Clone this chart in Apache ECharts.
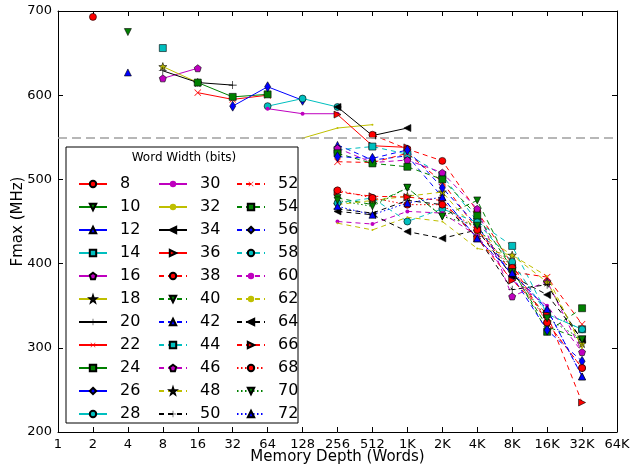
<!DOCTYPE html>
<html>
<head>
<meta charset="utf-8">
<script src="https://cdn.jsdelivr.net/npm/echarts@6/dist/echarts.min.js"></script>
<style>
  html, body { margin: 0; padding: 0; background: #fff; }
  #chart { width: 630px; height: 469px; }
</style>
</head>
<body>
<div id="chart"></div>
<script>
var _ = null;
// memory depths (words), one column per depth
var depths = [2, 4, 8, 16, 32, 64, 128, 256, 512, 1024, 2048, 4096, 8192, 16384, 32768];
var depthLabels = {1: '1', 2: '2', 4: '4', 8: '8', 16: '16', 32: '32', 64: '64', 128: '128', 256: '256', 512: '512',
  1024: '1K', 2048: '2K', 4096: '4K', 8192: '8K', 16384: '16K', 32768: '32K', 65536: '64K'};

// Fmax (MHz) per word width, columns follow depths
var w8  = [693];
var w10 = [_, 675];
var w12 = [_, 627];
var w14 = [_, _, 656];
var w16 = [_, _, 620, 632];
var w18 = [_, _, 634, 615];
var w20 = [_, _, 629, 615, 612];
var w22 = [_, _, _, 603, 595, 600];
var w24 = [_, _, _, 615, 598, 601];
var w26 = [_, _, _, _, 587, 610, 594];
var w28 = [_, _, _, _, _, 587, 596, 586];
var w30 = [_, _, _, _, _, 584, 578, 578];
var w32 = [_, _, _, _, _, _, 549, 561, 565];
var w34 = [_, _, _, _, _, _, _, 586, 552, 561];
var w36 = [_, _, _, _, _, _, _, 577, 540, 538];
var w38 = [_, _, _, _, _, _, _, _, 553, 536, 522, 462, 399, 330, 276];
var w40 = [_, _, _, _, _, _, _, 478, 470, 490, 456, 475, 392, 325, 310];
var w42 = [_, _, _, _, _, _, _, 541, 523, 528, 479, 430, 389, 346, 266];
var w44 = [_, _, _, _, _, _, _, 535, 539, 530, 505, 450, 421, 340, 322];
var w46 = [_, _, _, _, _, _, _, 537, 520, 523, 508, 465, 361, 379, 295];
var w48 = [_, _, _, _, _, _, _, 470, 475, 480, 485, 438, 410, 378, 305];
var w50 = [_, _, _, _, _, _, _, 465, 460, 475, 470, 432, 369, 375, 308];
var w52 = [_, _, _, _, _, _, _, 521, 520, 531, 497, 440, 390, 384, 328];
var w54 = [_, _, _, _, _, _, _, 531, 519, 515, 500, 457, 394, 319, 347];
var w56 = [_, _, _, _, _, _, _, 527, 525, 535, 490, 445, 385, 321, 284];
var w58 = [_, _, _, _, _, _, _, 472, 478, 450, 465, 449, 402, 340, 322];
var w60 = [_, _, _, _, _, _, _, 450, 447, 462, 460, 433, 380, 350, 295];
var w62 = [_, _, _, _, _, _, _, 448, 440, 455, 450, 418, 410, 385, 300];
var w64 = [_, _, _, _, _, _, _, 462, 458, 438, 430, 440, 385, 363, 310];
var w66 = [_, _, _, _, _, _, _, 485, 480, 479, 475, 430, 380, 340, 235];
var w68 = [_, _, _, _, _, _, _, 487, 478, 470, 470, 440, 395, 330, 276];
var w70 = [_, _, _, _, _, _, _, 475, 468, 490, 456, 445, 390, 335, 310];
var w72 = [_, _, _, _, _, _, _, 468, 458, 472, 479, 430, 389, 346, 266];

var widths = [8, 10, 12, 14, 16, 18, 20, 22, 24, 26, 28, 30, 32, 34, 36,
  38, 40, 42, 44, 46, 48, 50, 52, 54, 56, 58, 60, 62, 64, 66, 68, 70, 72];
var widthData = [w8, w10, w12, w14, w16, w18, w20, w22, w24, w26, w28, w30, w32, w34, w36,
  w38, w40, w42, w44, w46, w48, w50, w52, w54, w56, w58, w60, w62, w64, w66, w68, w70, w72];

// matplotlib classic colours / markers
var colors = ['#ff0000', '#008000', '#0000ff', '#00bfbf', '#bf00bf', '#bfbf00', '#000000'];
var PLUS = 'path://M-0.8,-10 L0.8,-10 L0.8,-0.8 L10,-0.8 L10,0.8 L0.8,0.8 L0.8,10 L-0.8,10 L-0.8,0.8 L-10,0.8 L-10,-0.8 L-0.8,-0.8 Z';
var STAR = 'path://M0,-10 L2.35,-3.24 L9.51,-3.09 L3.8,1.24 L5.88,8.09 L0,4 L-5.88,8.09 L-3.8,1.24 L-9.51,-3.09 L-2.35,-3.24 Z';
var PENT = 'path://M0,-10 L9.51,-3.09 L5.88,8.09 L-5.88,8.09 L-9.51,-3.09 Z';
var markers = [
  {symbol: 'circle', size: 7, rot: 0},       // o
  {symbol: 'triangle', size: 7, rot: 180},   // v
  {symbol: 'triangle', size: 7, rot: 0},     // ^
  {symbol: 'rect', size: 7, rot: 0},         // s
  {symbol: PENT, size: 7, rot: 0},           // p
  {symbol: STAR, size: 8, rot: 0},           // *
  {symbol: PLUS, size: 8, rot: 0, line: 1},  // +
  {symbol: PLUS, size: 9, rot: 45, line: 1}, // x
  {symbol: 'rect', size: 7, rot: 0},         // s
  {symbol: 'diamond', size: [6, 10], rot: 0},// d
  {symbol: 'circle', size: 7, rot: 0},       // o
  {symbol: 'circle', size: 4, rot: 0, line: 1}, // .
  {symbol: 'circle', size: 2, rot: 0, line: 1}, // ,
  {symbol: 'triangle', size: 7, rot: 90},    // <
  {symbol: 'triangle', size: 7, rot: -90}    // >
];

var series = [];
widths.forEach(function (w, i) {
  var group = Math.floor(i / 15);
  var k = i % 15;
  var m = markers[k];
  var color = colors[k % 7];
  var dash = group === 0 ? 'solid' : (group === 1 ? [5, 4] : [1.5, 2.5]);
  var pts = [];
  widthData[i].forEach(function (v, j) {
    if (v !== null) pts.push([depths[j], v]);
  });
  series.push({
    name: String(w),
    type: 'line',
    data: pts,
    symbol: m.symbol,
    symbolSize: m.size,
    symbolRotate: m.rot,
    showAllSymbol: true,
    color: color,
    lineStyle: {color: color, width: 1, type: dash},
    itemStyle: {color: color, borderColor: m.line ? color : '#000', borderWidth: m.line ? 0 : 0.6}
  });
});

series[0].markLine = {
  silent: true,
  symbol: 'none',
  label: {show: false},
  lineStyle: {color: '#a0a0a0', type: [9, 5], width: 1.5},
  data: [{yAxis: 550}]
};

function legendCol(names, left) {
  return {
    orient: 'vertical',
    left: left,
    top: 171,
    height: 280,
    itemWidth: 28,
    itemHeight: 8,
    itemGap: 7,
    data: names,
    selectedMode: false,
    textStyle: {fontFamily: 'DejaVu Sans', fontSize: 16, lineHeight: 14, color: '#000', padding: [0, 0, 0, 8]}
  };
}

var chart = echarts.init(document.getElementById('chart'));
chart.setOption({
  animation: false,
  backgroundColor: '#fff',
  grid: {left: 58, right: 13, top: 11, bottom: 37, outerBoundsMode: 'none', containLabel: false},
  xAxis: [{
    type: 'log',
    logBase: 2,
    min: 1,
    max: 65536,
    interval: 1,
    name: 'Memory Depth (Words)',
    nameLocation: 'middle',
    nameGap: 18,
    nameMoveOverlap: false,
    nameTextStyle: {fontFamily: 'DejaVu Sans', fontSize: 15, color: '#000'},
    axisLine: {lineStyle: {color: '#000', width: 1}},
    axisTick: {inside: true, length: 5, lineStyle: {color: '#000'}},
    axisLabel: {
      fontFamily: 'DejaVu Sans', fontSize: 13, color: '#000', margin: 6, hideOverlap: false,
      formatter: function (v) { return depthLabels[Math.round(v)] || ''; }
    },
    splitLine: {show: false}
  }, {
    type: 'log',
    logBase: 2,
    min: 1,
    max: 65536,
    interval: 1,
    position: 'top',
    axisLine: {lineStyle: {color: '#000', width: 1}},
    axisTick: {inside: true, length: 5, lineStyle: {color: '#000'}},
    axisLabel: {show: false},
    splitLine: {show: false}
  }],
  yAxis: [{
    type: 'value',
    min: 200,
    max: 700,
    interval: 100,
    name: 'Fmax (MHz)',
    nameLocation: 'middle',
    nameGap: 32,
    nameMoveOverlap: false,
    nameTextStyle: {fontFamily: 'DejaVu Sans', fontSize: 15, color: '#000'},
    axisLine: {show: true, lineStyle: {color: '#000', width: 1}},
    axisTick: {show: true, inside: true, length: 5, lineStyle: {color: '#000'}},
    axisLabel: {fontFamily: 'DejaVu Sans', fontSize: 13, color: '#000', margin: 6},
    splitLine: {show: false}
  }, {
    type: 'value',
    min: 200,
    max: 700,
    interval: 100,
    position: 'right',
    axisLine: {show: true, lineStyle: {color: '#000', width: 1}},
    axisTick: {show: true, inside: true, length: 5, lineStyle: {color: '#000'}},
    axisLabel: {show: false},
    splitLine: {show: false}
  }],
  graphic: [{
    type: 'rect',
    z: 3,
    shape: {x: 66, y: 147, width: 232, height: 276},
    style: {fill: '#fff', stroke: '#000', lineWidth: 1}
  }, {
    type: 'text',
    z: 4,
    x: 184,
    y: 152,
    style: {text: 'Word Width (bits)', font: '12px "DejaVu Sans"', fill: '#000', textAlign: 'center'}
  }],
  legend: [
    legendCol(['8', '10', '12', '14', '16', '18', '20', '22', '24', '26', '28'], 73),
    legendCol(['30', '32', '34', '36', '38', '40', '42', '44', '46', '48', '50'], 153),
    legendCol(['52', '54', '56', '58', '60', '62', '64', '66', '68', '70', '72'], 231)
  ],
  series: series
});
</script>
</body>
</html>
